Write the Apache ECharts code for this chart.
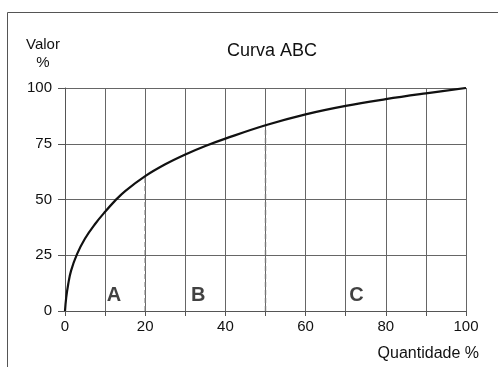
<!DOCTYPE html>
<html>
<head>
<meta charset="utf-8">
<script src="https://cdn.jsdelivr.net/npm/echarts@6/dist/echarts.min.js"></script>
<style>
html,body{margin:0;padding:0;background:#fff;}
#chart{width:498px;height:367px;}
</style>
</head>
<body>
<div id="chart"></div>
<script>
// Data
var curveX = [0, 0.3, 0.8, 1.5, 3, 5, 7.5, 10, 12.5, 15, 20, 25, 30, 35, 40, 50, 60, 70, 80, 90, 100];
var curveY = [0, 6, 12, 18, 25.5, 32.5, 39, 44.5, 49.5, 53.8, 60.5, 65.8, 70.2, 74, 77.3, 83.3, 88.2, 92, 95, 97.6, 100];
var xTickLabels = [0, 20, 40, 60, 80, 100];
var yTickLabels = [0, 25, 50, 75, 100];
var boundaryX = [20, 50];
var classLabels = ['A', 'B', 'C'];
var classLabelX = [12.2, 33.2, 72.7];
var classLabelY = [6.8, 6.8, 6.8];

var chart = echarts.init(document.getElementById('chart'));

function valueAt(x) {
  var i = curveX.indexOf(x);
  return curveY[i];
}

var curveData = curveX.map(function (x, i) { return [x, curveY[i]]; });
var dashedSeries = boundaryX.map(function (bx) {
  return {
    type: 'line',
    data: [[bx, 0], [bx, valueAt(bx)]],
    symbol: 'none',
    lineStyle: { color: '#777', width: 1.4, type: [5, 3] },
    silent: true,
    z: 1
  };
});

var font = 'Arial, "Liberation Sans", sans-serif';

chart.setOption({
  animation: false,
  backgroundColor: '#fff',
  title: {
    text: 'Curva ABC',
    left: 267,
    top: 37,
    textAlign: 'center',
    textStyle: { fontFamily: font, fontSize: 18, fontWeight: 'normal', color: '#111' }
  },
  grid: { left: 65, right: 32, top: 88, bottom: 56 },
  xAxis: {
    type: 'value',
    min: 0,
    max: 100,
    interval: 10,
    axisLine: { show: true, lineStyle: { color: '#555', width: 1 } },
    axisTick: { show: true, length: 5, lineStyle: { color: '#555', width: 1 } },
    axisLabel: {
      margin: 8,
      fontFamily: font, fontSize: 15, color: '#111',
      formatter: function (v) { return xTickLabels.indexOf(v) >= 0 ? String(v) : ''; }
    },
    splitLine: { show: true, lineStyle: { color: '#666', width: 1 } }
  },
  yAxis: {
    type: 'value',
    min: 0,
    max: 100,
    interval: 25,
    axisLine: { show: true, lineStyle: { color: '#555', width: 1 } },
    axisTick: { show: true, length: 7, lineStyle: { color: '#555', width: 1 } },
    axisLabel: {
      margin: 13,
      fontFamily: font, fontSize: 15, color: '#111',
      formatter: function (v) { return yTickLabels.indexOf(v) >= 0 ? String(v) : ''; }
    },
    splitLine: { show: true, lineStyle: { color: '#666', width: 1 } }
  },
  series: [
    {
      type: 'line',
      data: curveData,
      smooth: 0.4,
      symbol: 'none',
      lineStyle: { color: '#111', width: 2.2 },
      z: 3
    },
    {
      type: 'scatter',
      data: classLabelX.map(function (x, i) { return [x, classLabelY[i], classLabels[i]]; }),
      symbolSize: 0,
      silent: true,
      label: {
        show: true,
        position: 'inside',
        formatter: function (p) { return p.data[2]; },
        fontFamily: font, fontSize: 20, fontWeight: 'bold', color: '#111'
      },
      z: 4
    }
  ].concat(dashedSeries),
  graphic: [
    {
      type: 'polyline',
      shape: { points: [[7.5, 367], [7.5, 12.5], [498, 12.5]] },
      style: { stroke: '#555', lineWidth: 1, fill: null },
      silent: true
    },
    {
      type: 'text', x: 43, y: 45,
      style: { text: 'Valor', font: '15px ' + font, fill: '#111', textAlign: 'center', textVerticalAlign: 'middle' },
      silent: true
    },
    {
      type: 'text', x: 43, y: 63,
      style: { text: '%', font: '15px ' + font, fill: '#111', textAlign: 'center', textVerticalAlign: 'middle' },
      silent: true
    },
    {
      type: 'text', x: 479, y: 354,
      style: { text: 'Quantidade %', font: '16px ' + font, fill: '#111', textAlign: 'right', textVerticalAlign: 'middle' },
      silent: true
    }
  ]
});
</script>
</body>
</html>
